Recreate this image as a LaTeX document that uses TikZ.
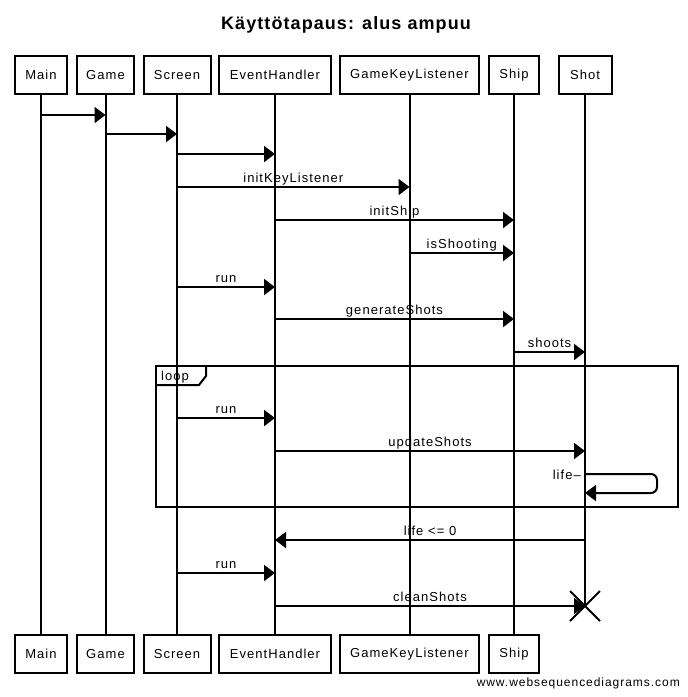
\documentclass[tikz,border=0pt]{standalone}
\usepackage{fontspec}
\setmainfont{Liberation Sans}[LetterSpace=8]
\newfontfamily\titlefont{Liberation Sans}[LetterSpace=6]
\usetikzlibrary{arrows.meta,calc}
\tikzset{
  actor/.style={draw, line width=2pt, fill=white, minimum height=38pt, inner sep=0pt,
    font=\fontsize{13}{15}\selectfont},
  life/.style={line width=2pt},
  msgline/.style={line width=2pt, -{Triangle[length=11pt,width=16pt]}},
  lbl/.style={midway, anchor=base, yshift=4.5pt, inner sep=0pt, font=\fontsize{13}{15}\selectfont},
  frame/.style={line width=2pt},
}
\newcommand\sdmsg[4]{\draw[msgline] (#1 |- 0,#3) -- node[lbl]{#4} (#2 |- 0,#3);}
\begin{document}
\begin{tikzpicture}[x=1pt,y=-1pt]
\useasboundingbox (0,0) rectangle (688,697);
% title
\node[font=\titlefont\bfseries\fontsize{18}{20}\selectfont] (title) at (346,25) {Käyttötapaus: alus ampuu};
% top actors
\node[actor, minimum width=52pt]  (mainT) at (41,75) {Main};
\node[actor, minimum width=57pt]  (gameT) at (105.5,75) {Game};
\node[actor, minimum width=67pt]  (screenT) at (177,75) {Screen};
\node[actor, minimum width=112pt] (ehT) at (275,75) {EventHandler};
\node[actor, minimum width=139pt] (gklT) at (409.5,75) {GameKeyListener};
\node[actor, minimum width=50pt]  (shipT) at (514,75) {Ship};
\node[actor, minimum width=53pt]  (shotT) at (585,75) {Shot};
% bottom actors
\node[actor, minimum width=52pt]  (mainB) at (41,654) {Main};
\node[actor, minimum width=57pt]  (gameB) at (105.5,654) {Game};
\node[actor, minimum width=67pt]  (screenB) at (177,654) {Screen};
\node[actor, minimum width=112pt] (ehB) at (275,654) {EventHandler};
\node[actor, minimum width=139pt] (gklB) at (409.5,654) {GameKeyListener};
\node[actor, minimum width=50pt]  (shipB) at (514,654) {Ship};
\coordinate (shotEnd) at (585,606);
% lifelines
\draw[life] (mainT.south) -- (mainB.north);
\draw[life] (gameT.south) -- (gameB.north);
\draw[life] (screenT.south) -- (screenB.north);
\draw[life] (ehT.south) -- (ehB.north);
\draw[life] (gklT.south) -- (gklB.north);
\draw[life] (shipT.south) -- (shipB.north);
\draw[life] (shotT.south) -- (shotEnd);
% messages
\sdmsg{mainT}{gameT}{115}{}
\sdmsg{gameT}{screenT}{134}{}
\sdmsg{screenT}{ehT}{154}{}
\sdmsg{screenT}{gklT}{187}{initKeyListener}
\sdmsg{ehT}{shipT}{220}{initShip}
\sdmsg{gklT}{shipT}{253}{isShooting}
\sdmsg{screenT}{ehT}{287}{run}
\sdmsg{ehT}{shipT}{319}{generateShots}
\sdmsg{shipT}{shotT}{352}{shoots}
% loop frame
\draw[frame] (156,366) rectangle (678,507);
\draw[frame] (156,385) -- (199,385) -- (206,376) -- (206,366);
\node[anchor=base west, inner sep=0pt, font=\fontsize{13}{15}\selectfont] (looplbl) at (161,380.5) {loop};
\sdmsg{screenT}{ehT}{418}{run}
\sdmsg{ehT}{shotT}{451}{updateShots}
% self message
\draw[msgline, rounded corners=6pt] (shotT |- 0,474) -- (657,474) -- (657,493) -- (shotT |- 0,493);
\node[anchor=base east, inner sep=0pt, font=\fontsize{13}{15}\selectfont] (lifelbl) at (581,479) {life--};
\sdmsg{shotT}{ehT}{540}{life <= 0}
\sdmsg{screenT}{ehT}{573}{run}
\draw[msgline] (ehT |- shotEnd) -- node[lbl]{cleanShots} (shotEnd);
% destroy mark
\draw[life] ($(shotEnd)+(-15,-15)$) -- ($(shotEnd)+(15,15)$);
\draw[life] ($(shotEnd)+(-15,15)$) -- ($(shotEnd)+(15,-15)$);
% footer
\node[anchor=east, inner sep=0pt, font=\fontsize{12}{14}\selectfont] (footer) at (680,683) {www.websequencediagrams.com};
\end{tikzpicture}
\end{document}
